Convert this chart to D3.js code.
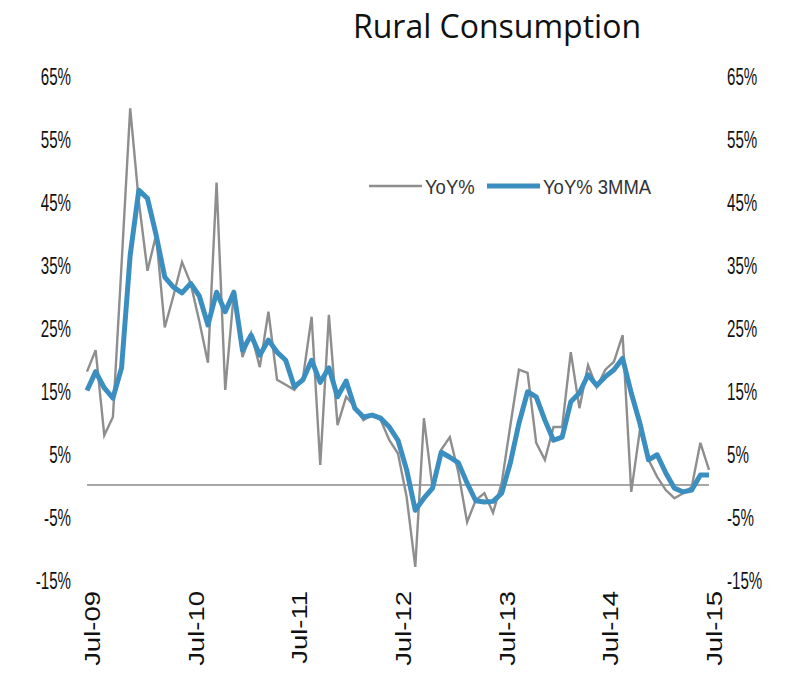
<!DOCTYPE html>
<html>
<head>
<meta charset="utf-8">
<script src="https://cdn.jsdelivr.net/npm/d3@7"></script>
<style>
  body { margin: 0; background: #fff; }
  .tick text { font-family: "Liberation Sans", Arial, sans-serif; fill: #111; }
</style>
</head>
<body>
<svg id="chart" width="785" height="677"></svg>
<script>
// monthly YoY %, Jul-09 .. Jul-15
var yoy = [18, 21.4, 7.9, 10.8, 35, 59.8, 45, 34, 39.7, 25, 30, 35.4,
  32, 26, 19.4, 48, 15.1, 30.5, 20.3, 24.1, 18.7, 27.5, 16.7, 15.9,
  15.1, 17, 26.7, 3.2, 27, 9.5, 14, 12.4, 10.3, 11.1, 10.3, 7.1,
  5, -1.9, -13, 10.6, -0.5, 5.6, 7.6, 1.9, -5.9, -2.4, -1.3, -4.4,
  0.3, 9.4, 18.3, 17.8, 6.7, 4, 9.2, 9.2, 21.1, 12.2, 19, 15.5,
  18.3, 19.6, 23.8, -1.1, 8.7, 4, 1.3, -0.8, -2.1, -1.3, -0.3, 6.7,
  2.4];
var yoy3mma = [15, 18, 15.4, 13.8, 18.6, 36.5, 46.8, 45.5, 39.7, 33, 31.4, 30.5,
  32, 30, 25.4, 30.6, 27.5, 30.6, 21.4, 23.8, 20.6, 23, 21.1, 19.8,
  15.6, 16.7, 19.8, 16.3, 18.6, 14, 16.5, 12.2, 10.8, 11.1, 10.6, 9.2,
  7.1, 2.4, -4, -2.1, -0.5, 5.2, 4.4, 3.5, 0.3, -2.5, -2.7, -2.6,
  -1.3, 3.5, 9.8, 14.8, 14, 10.3, 7.1, 7.6, 13.2, 14.6, 17.5, 15.8,
  17.2, 18.3, 20.1, 14.6, 9.8, 4, 4.8, 1.9, -0.5, -1.1, -0.8, 1.6,
  1.6];
var xTickLabels = ["Jul-09", "Jul-10", "Jul-11", "Jul-12", "Jul-13", "Jul-14", "Jul-15"];
var yTicks = [-15, -5, 5, 15, 25, 35, 45, 55, 65];

var svg = d3.select('#chart');

var x = d3.scaleLinear().domain([0, yoy.length - 1]).range([87, 709]);
var y = d3.scaleLinear().domain([-15, 65]).range([579.5, 75.5]);

// title
svg.append('text')
  .attr('x', 497).attr('y', 38)
  .attr('text-anchor', 'middle')
  .style('font-family', '"Open Sans", sans-serif')
  .style('font-size', '32px')
  .style('fill', '#111')
  .text('Rural Consumption');

// y axes both sides (text looks squeezed in the source, so scale it)
var fmt = function(d) { return d + '%'; };
var yLeft = svg.append('g').attr('transform', 'translate(71,0)')
  .call(d3.axisLeft(y).tickValues(yTicks).tickSize(0).tickPadding(0).tickFormat(fmt));
var yRight = svg.append('g').attr('transform', 'translate(727,0)')
  .call(d3.axisRight(y).tickValues(yTicks).tickSize(0).tickPadding(0).tickFormat(fmt));
[yLeft, yRight].forEach(function(g) {
  g.select('.domain').remove();
  g.selectAll('text')
    .style('font-size', '24px')
    .attr('x', 0).attr('dy', '0.36em')
    .attr('transform', 'scale(0.63,1)');
});

// x axis, rotated labels
var xAxis = svg.append('g').attr('transform', 'translate(0,591)')
  .call(d3.axisBottom(x).tickValues(d3.range(0, yoy.length, 12)).tickSize(0)
    .tickFormat(function(d, i) { return xTickLabels[i]; }));
xAxis.select('.domain').remove();
xAxis.selectAll('.tick').attr('transform', function(d) { return 'translate(' + (x(d) + 5) + ',0)'; });
xAxis.selectAll('text')
  .style('font-size', '22px')
  .attr('text-anchor', 'end')
  .attr('transform', 'rotate(-90) scale(1.25,1)')
  .attr('x', 0).attr('y', 0)
  .attr('dx', 0).attr('dy', '0.36em');

// zero line
svg.append('line')
  .attr('x1', x(0)).attr('x2', x(yoy.length - 1))
  .attr('y1', y(0)).attr('y2', y(0))
  .style('stroke', '#8a8a8a').style('stroke-width', 1.5);

var line = d3.line().x(function(d, i) { return x(i); }).y(function(d) { return y(d); });

svg.append('path').datum(yoy)
  .attr('d', line)
  .style('fill', 'none').style('stroke', '#8e8e8e').style('stroke-width', 2.4)
  .style('stroke-linejoin', 'miter');

svg.append('path').datum(yoy3mma)
  .attr('d', line)
  .style('fill', 'none').style('stroke', '#3b8fc0').style('stroke-width', 5)
  .style('stroke-linejoin', 'round');

// legend
var legend = [
  {label: 'YoY%', color: '#8e8e8e', width: 2.5, x: 369},
  {label: 'YoY% 3MMA', color: '#3b8fc0', width: 5, x: 487}
];
var lg = svg.append('g').attr('class', 'legend');
legend.forEach(function(l) {
  lg.append('line')
    .attr('x1', l.x).attr('x2', l.x + 53)
    .attr('y1', 186).attr('y2', 186)
    .style('stroke', l.color).style('stroke-width', l.width);
  lg.append('text')
    .attr('transform', 'translate(' + (l.x + 56) + ',186) scale(0.88,1)')
    .attr('dy', '0.36em')
    .style('font-family', '"Liberation Sans", Arial, sans-serif')
    .style('font-size', '21px').style('fill', '#333')
    .text(l.label);
});
</script>
</body>
</html>
